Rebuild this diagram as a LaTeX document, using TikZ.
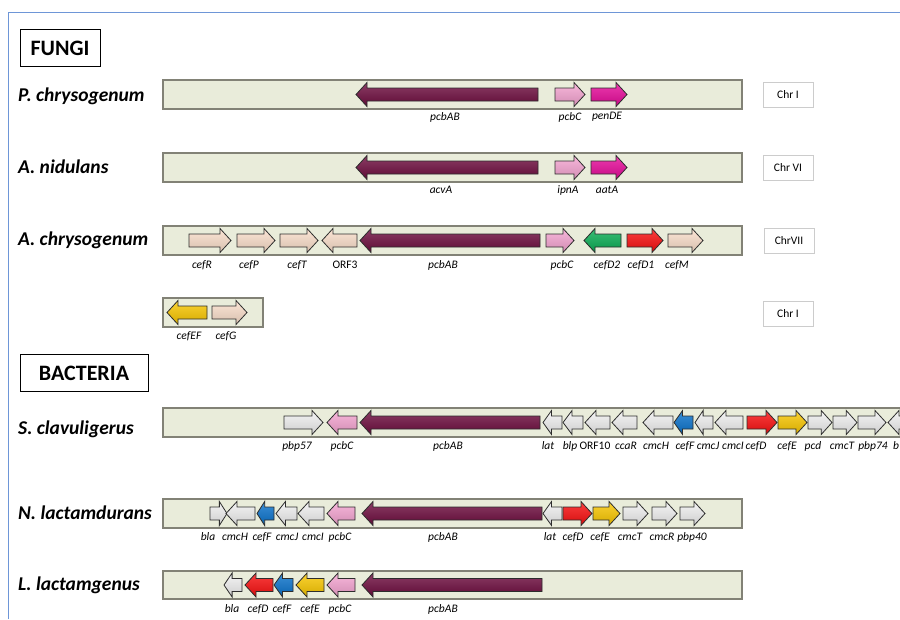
\documentclass[tikz,border=0pt]{standalone}
\usepackage{fontspec}
\setmainfont{Carlito}
\definecolor{barfill}{RGB}{233,236,218}
\definecolor{bardraw}{RGB}{130,130,118}
\definecolor{arrline}{RGB}{45,45,45}
\definecolor{mar}{RGB}{110,12,62}
\definecolor{pnk}{RGB}{246,165,210}
\definecolor{mag}{RGB}{232,10,155}
\definecolor{pch}{RGB}{252,224,204}
\definecolor{grn}{RGB}{10,175,85}
\definecolor{rd}{RGB}{250,15,15}
\definecolor{yl}{RGB}{250,200,0}
\definecolor{bl}{RGB}{10,115,205}
\definecolor{wh}{RGB}{242,242,242}
\definecolor{framec}{RGB}{110,150,215}
\newcommand{\garr}[4]{%
  \pgfmathsetmacro{\gl}{#2-#1}%
  \pgfmathsetmacro{\gh}{abs(\gl)>24 ? 11*sign(\gl) : 0.45*\gl}%
  \pgfmathsetmacro{\gb}{#2-\gh}%
  \shadedraw[draw=arrline, line width=0.8pt, line join=miter,
    top color=#4!80!white, middle color=#4, bottom color=#4!85!black]
    (#1,#3-6.5) -- (\gb,#3-6.5) -- (\gb,#3-12) -- (#2,#3) -- (\gb,#3+12)
    -- (\gb,#3+6.5) -- (#1,#3+6.5) -- cycle;}
\tikzset{
  barbox/.style={fill=barfill, draw=bardraw, line width=1.6pt},
  glab/.style={font=\itshape\fontsize{11.5}{12}\selectfont, inner sep=0pt, anchor=center},
  species/.style={font=\bfseries\itshape\fontsize{19.5}{21}\selectfont, inner sep=0pt, anchor=west},
  chrbox/.style={draw=black!20, line width=0.8pt, minimum width=50pt, minimum height=25pt, inner sep=0pt, font=\fontsize{11.5}{12}\selectfont},
  groupbox/.style={draw=black, line width=0.8pt, minimum height=37pt, inner sep=0pt, font=\bfseries\fontsize{22}{24}\selectfont},
}
\begin{document}
\begin{tikzpicture}[x=1pt, y=-1pt]
\path[use as bounding box] (0,0) rectangle (900,619);
\clip (0,0) rectangle (900,619);
\fill[white] (0,0) rectangle (900,619);
\draw[framec, line width=1pt] (8,619) -- (8,12) -- (900,12);

% group boxes
\node[groupbox, minimum width=80pt] (fungi) at (60,48) {FUNGI};
\node[groupbox, minimum width=128pt] (bact) at (84,373) {BACTERIA};

% species labels
\node[species] (sp1) at (18,96) {P. chrysogenum};
\node[species] (sp2) at (18,167) {A. nidulans};
\node[species] (sp3) at (18,240) {A. chrysogenum};
\node[species] (sp4) at (18,429) {S. clavuligerus};
\node[species] (sp5) at (18,513) {N. lactamdurans};
\node[species] (sp6) at (18,585) {L. lactamgenus};

% chromosome boxes
\node[chrbox] (c1) at (788,94.5) {Chr I};
\node[chrbox] (c2) at (788,167.5) {Chr VI};
\node[chrbox] (c3) at (789,240.5) {ChrVII};
\node[chrbox] (c4) at (788,313.5) {Chr I};

% bars
\draw[barbox] (163,80) rectangle (742,109);
\draw[barbox] (163,153) rectangle (742,182);
\draw[barbox] (163,226) rectangle (742,255);
\draw[barbox] (163,298) rectangle (263,327);
\draw[barbox] (163,408) rectangle (930,437);
\draw[barbox] (163,499) rectangle (742,528);
\draw[barbox] (163,571) rectangle (742,599);

% P. chrysogenum
\foreach \a/\b/\c in {538/356/mar, 555/585/pnk, 591/627/mag} {\garr{\a}{\b}{94.5}{\c}}
\foreach \x/\t [count=\i] in {445/pcbAB, 570/pcbC, 607/penDE}
  \node[glab] (pc\i) at (\x,117) {\t};

% A. nidulans
\foreach \a/\b/\c in {538/356/mar, 555/585/pnk, 591/627/mag} {\garr{\a}{\b}{167.5}{\c}}
\foreach \x/\t [count=\i] in {441/acvA, 568/ipnA, 607/aatA}
  \node[glab] (an\i) at (\x,190) {\t};

% A. chrysogenum
\foreach \a/\b/\c in {189/231/pch, 237/275/pch, 280/318/pch, 357/322/pch, 540/360/mar,
  546/574/pnk, 621/584/grn, 627/663/rd, 668/703/pch} {\garr{\a}{\b}{240.5}{\c}}
\foreach \x/\t [count=\i] in {202/cefR, 249/cefP, 297/cefT, 345/{\upshape ORF3}, 443/pcbAB,
  562/pcbC, 607/cefD2, 641/cefD1, 677/cefM}
  \node[glab] (ac\i) at (\x,265) {\t};
\foreach \a/\b/\c in {207/167/yl, 212/247/pch} {\garr{\a}{\b}{312.5}{\c}}
\foreach \x/\t [count=\i] in {189/cefEF, 226/cefG}
  \node[glab] (ad\i) at (\x,336) {\t};

% S. clavuligerus
\foreach \a/\b/\c in {284/323/wh, 357/327/pnk, 540/360/mar, 562/543/wh, 583/563/wh,
  610/585/wh, 637/612/wh, 673/643/wh, 693/674/bl, 713/695/wh, 743/715/wh, 747/777/rd,
  778/807/yl, 808/832/wh, 833/857/wh, 858/886/wh, 915/888/wh} {\garr{\a}{\b}{422.5}{\c}}
\foreach \x/\t [count=\i] in {297/pbp57, 342/pcbC, 448/pcbAB, 548/lat, 570/blp,
  595/{\upshape ORF10}, 626/ccaR, 656/cmcH, 685/cefF, 708/cmcJ, 733/cmcI, 756/cefD,
  787/cefE, 813/pcd, 842/cmcT, 873/pbp74}
  \node[glab] (sc\i) at (\x,446) {\t};
\node[glab, anchor=west] (scb) at (893,446) {b};

% N. lactamdurans
\foreach \a/\b/\c in {210/227/wh, 255/226/wh, 274/257/bl, 297/276/wh, 324/298/wh,
  355/327/pnk, 542/362/mar, 562/543/wh, 563/592/rd, 593/620/yl, 623/648/wh,
  652/677/wh, 680/705/wh} {\garr{\a}{\b}{513.5}{\c}}
\foreach \x/\t [count=\i] in {208/bla, 235/cmcH, 262/cefF, 287/cmcJ, 313/cmcI, 340/pcbC,
  443/pcbAB, 550/lat, 573/cefD, 600/cefE, 630/cmcT, 662/cmcR, 692/pbp40}
  \node[glab] (nl\i) at (\x,537) {\t};

% L. lactamgenus
\foreach \a/\b/\c in {242/224/wh, 273/245/rd, 293/274/bl, 324/296/yl, 355/327/pnk,
  542/362/mar} {\garr{\a}{\b}{585}{\c}}
\foreach \x/\t [count=\i] in {232/bla, 258/cefD, 282/cefF, 310/cefE, 340/pcbC, 443/pcbAB}
  \node[glab] (ll\i) at (\x,609) {\t};
\end{tikzpicture}
\end{document}
